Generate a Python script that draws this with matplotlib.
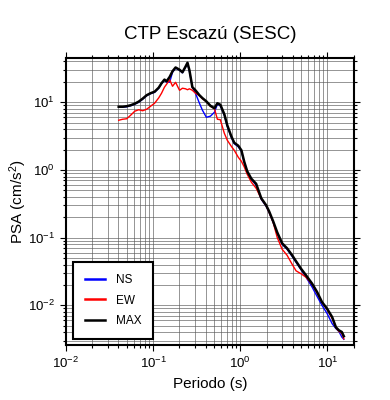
import numpy as np
import matplotlib
matplotlib.use("Agg")
import matplotlib.pyplot as plt
from matplotlib.ticker import LogLocator, NullFormatter

plt.rcParams['font.family'] = ['Liberation Sans', 'DejaVu Sans']
plt.rcParams['mathtext.fontset'] = 'custom'
plt.rcParams['mathtext.rm'] = 'Liberation Sans'
plt.rcParams['mathtext.it'] = 'Liberation Sans:italic'

# periods (s)
periodo = [0.0403, 0.0448, 0.0498, 0.0553, 0.0615, 0.0683, 0.0759, 0.0844, 0.0936, 0.104,
           0.116, 0.125, 0.135, 0.143, 0.155, 0.167, 0.181, 0.201, 0.217, 0.235,
           0.248, 0.261, 0.282, 0.306, 0.340, 0.368, 0.408, 0.454, 0.505, 0.546,
           0.590, 0.656, 0.709, 0.788, 0.853, 0.948, 1.03, 1.11, 1.20, 1.34,
           1.52, 1.74, 1.98, 2.14, 2.38, 2.65, 3.02, 3.44, 3.93, 4.36,
           4.98, 5.68, 6.65, 7.59, 8.65, 9.87, 11.3, 12.5, 13.5, 14.6, 15.4]

psa_ns = [8.44, 8.44, 8.58, 8.88, 9.34, 10.0, 11.1, 12.5, 13.4, 14.0,
          16.1, 18.8, 21.1, 19.8, 19.8, 27.7, 31.9, 29.7, 27.2, 32.9,
          37.7, 28.7, 16.7, 13.6, 9.66, 7.62, 6.00, 6.22, 7.11, 9.34,
          8.88, 6.43, 4.42, 3.04, 2.44, 2.20, 1.89, 1.30, 0.94, 0.729,
          0.594, 0.369, 0.291, 0.237, 0.169, 0.116, 0.0799, 0.0674, 0.0531, 0.0433,
          0.0336, 0.0260, 0.0187, 0.0136, 0.0100, 0.00764, 0.00538, 0.00454, 0.00414, 0.00341, 0.00316]

psa_ew = [5.42, 5.61, 5.70, 6.43, 7.36, 7.75, 7.49, 7.88, 8.73, 9.66,
          11.6, 13.6, 16.7, 18.5, 21.5, 17.2, 19.7, 15.0, 16.1, 15.8,
          15.3, 15.8, 15.0, 13.6, 12.5, 11.3, 10.2, 8.73, 8.02, 5.61,
          5.52, 3.48, 2.75, 2.24, 1.95, 1.54, 1.34, 1.11, 0.864, 0.658,
          0.537, 0.376, 0.296, 0.237, 0.169, 0.101, 0.0674, 0.0550, 0.0405, 0.0324,
          0.0293, 0.0260, 0.0205, 0.0154, 0.0111, 0.00876, 0.00645, 0.00467, 0.00414, 0.00387, 0.00321]

psa_max = [8.58, 8.58, 8.73, 9.03, 9.51, 10.2, 11.3, 12.7, 13.6, 14.3,
           16.4, 19.1, 21.6, 20.4, 23.7, 28.7, 32.6, 30.2, 27.7, 33.4,
           38.3, 29.7, 16.7, 15.0, 12.7, 11.5, 10.3, 8.88, 8.15, 9.66,
           9.19, 6.65, 4.57, 3.15, 2.52, 2.28, 1.95, 1.32, 0.957, 0.741,
           0.625, 0.382, 0.301, 0.245, 0.175, 0.120, 0.0826, 0.0697, 0.0550, 0.0448,
           0.0347, 0.0278, 0.0210, 0.0158, 0.0112, 0.00897, 0.00674, 0.00475, 0.00429, 0.00405, 0.00350]

fig = plt.figure(figsize=(3.9, 4.0), dpi=100)
ax = fig.add_axes([0.169, 0.1375, 0.738, 0.7175])

ax.plot(periodo, psa_ns, color='#0000ff', lw=1.0, label='NS')
ax.plot(periodo, psa_ew, color='#ff0000', lw=1.0, label='EW')
ax.plot(periodo, psa_max, color='black', lw=1.8, label='MAX')

ax.set_xscale('log')
ax.set_yscale('log')
ax.set_xlim(0.01, 20)
ax.set_ylim(0.0026, 45)

for axis in (ax.xaxis, ax.yaxis):
    axis.set_major_locator(LogLocator(base=10, numticks=10))
    axis.set_minor_locator(LogLocator(base=10, subs=np.arange(2, 10), numticks=20))
    axis.set_minor_formatter(NullFormatter())

ax.grid(True, which='both', color='0.35', lw=0.45)
ax.set_axisbelow(True)

ax.tick_params(which='both', direction='out', top=True, right=True, labelsize=9.5, width=0.8)
ax.tick_params(which='major', length=4.5)
ax.tick_params(which='minor', length=2.5)
for s in ax.spines.values():
    s.set_linewidth(1.5)

ax.set_title('CTP Escazú (SESC)', fontsize=13.5, pad=14)
ax.set_xlabel('Periodo (s)', fontsize=11)
ax.set_ylabel('PSA (cm/s$^2$)', fontsize=11, labelpad=-1)

leg = ax.legend(loc='lower left', bbox_to_anchor=(0.025, 0.02), fontsize=8.5,
                fancybox=False, framealpha=1, edgecolor='black',
                handlelength=1.7, handletextpad=0.9, labelspacing=0.75,
                borderpad=1.0, borderaxespad=0)
leg.get_frame().set_linewidth(1.5)
for line in leg.get_lines():
    line.set_linewidth(1.8)

fig.savefig('out.png', dpi=100)
